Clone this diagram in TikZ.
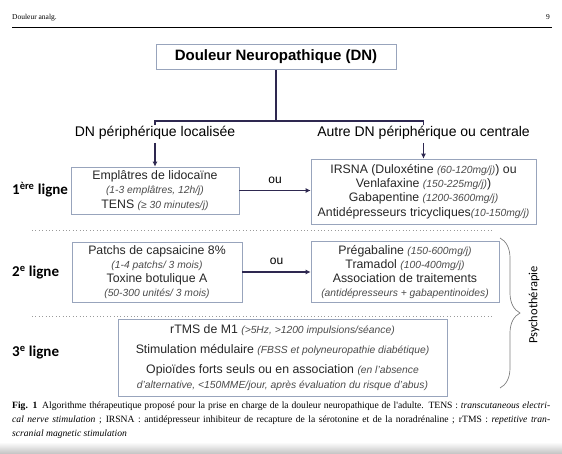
\documentclass[tikz,border=0pt]{standalone}
\usepackage{fontspec}
\setmainfont{Liberation Sans}
\newfontfamily\calibri{Carlito}
\newfontfamily\capfont{Liberation Serif}
\usepackage{xcolor}
\usetikzlibrary{arrows.meta, positioning, calc, decorations.pathreplacing}

\definecolor{boxline}{HTML}{98A4BC}
\definecolor{arrowcol}{HTML}{2E2850}
\definecolor{dosegray}{HTML}{4A4A4A}
\definecolor{dotgray}{HTML}{9A9A9A}

\newcommand{\dose}[1]{{\fontsize{10.3}{12}\selectfont\itshape\color{dosegray}#1}}

\begin{document}
\begin{tikzpicture}[
    x=1pt, y=-1pt,
    >=Latex,
    drugbox/.style={draw=boxline, line width=0.6pt, align=center, inner sep=0pt,
        text=black!85, font=\fontsize{12.3}{14.2}\selectfont},
    titlebox/.style={draw=boxline, line width=0.6pt, inner sep=0pt,
        minimum width=240, minimum height=25, font=\bfseries\fontsize{15}{18}\selectfont},
    branch/.style={draw=arrowcol, line width=1.8pt},
    branchlabel/.style={inner sep=3pt, font=\fontsize{14}{16}\selectfont},
    downarrow/.style={draw=arrowcol, line width=1.5pt, -{Latex[length=5pt,width=5pt]}},
    ouarrow/.style={draw=arrowcol, line width=1.8pt, -{Latex[length=5pt,width=5pt]}},
    rowlabel/.style={anchor=west, inner sep=0pt, font=\calibri\bfseries\fontsize{15}{18}\selectfont},
    rowsep/.style={draw=dotgray, line width=0.8pt, dash pattern=on 0.8pt off 2.6pt},
    psybrace/.style={draw=gray, line width=0.7pt, decorate, decoration={brace, amplitude=20pt}}
]

\useasboundingbox (0,0) rectangle (562,453);

% Page head
\node[anchor=base west, inner sep=0pt, font=\capfont\fontsize{7.5}{9}\selectfont] (runhead) at (12,19) {Douleur analg.};
\node[anchor=base east, inner sep=0pt, font=\capfont\fontsize{7.5}{9}\selectfont] (pagenum) at (550,19) {9};
\draw[line width=0.7pt] (12,27) -- (552,27);

% Top of the tree
\node[titlebox] (dn) at (276,57) {Douleur Neuropathique (DN)};
\coordinate (fork) at (276,121);
\coordinate (tickL) at (155,125);
\coordinate (tickR) at (423.5,125);
\draw[branch] (dn.south) -- (fork);
\draw[branch] (tickL) -- (tickL |- fork) -- (tickR |- fork) -- (tickR);

\node[branchlabel] (periph) at (155,133) {DN périphérique localisée};
\node[branchlabel] (autre) at (423.5,133) {Autre DN périphérique ou centrale};

% 1ere ligne
\node[drugbox, minimum width=168, minimum height=47] (l1a) at (155,190.5)
    {Emplâtres de lidocaïne\\ \dose{(1-3 emplâtres, 12h/j)}\\ TENS \dose{(≥ 30 minutes/j)}};
\node[drugbox, minimum width=225, minimum height=65] (l1b) at (423.5,191.5)
    {IRSNA (Duloxétine \dose{(60-120mg/j)}) ou\\ Venlafaxine \dose{(150-225mg/j)})\\
     Gabapentine \dose{(1200-3600mg/j)}\\ Antidépresseurs tricycliques\dose{(10-150mg/j)}};

% 2e ligne
\node[drugbox, minimum width=170, minimum height=60] (l2a) at (157,272)
    {Patchs de capsaicine 8\%\\ \dose{(1-4 patchs/ 3 mois)}\\ Toxine botulique A\\ \dose{(50-300 unités/ 3 mois)}};
\node[drugbox, minimum width=188, minimum height=61] (l2b) at (405,272)
    {Prégabaline \dose{(150-600mg/j)}\\ Tramadol \dose{(100-400mg/j)}\\ Association de traitements\\
     \dose{(antidépresseurs + gabapentinoides)}};

% 3e ligne
\node[drugbox, minimum width=329, minimum height=77, font=\fontsize{12.3}{20}\selectfont] (l3) at (282.5,358)
    {rTMS de M1 \dose{(>5Hz, >1200 impulsions/séance)}\\
     Stimulation médulaire \dose{(FBSS et polyneuropathie diabétique)}\\
     Opioïdes forts seuls ou en association \dose{(en l'absence}\\[-5pt]
     \dose{d'alternative, <150MME/jour, après évaluation du risque d'abus)}};

% arrows
\draw[downarrow] (periph.south) -- (l1a.north);
\draw[downarrow] (autre.south) -- (l1b.north);
\draw[ouarrow] (l1a.east) -- (l1a.east -| l1b.west)
    node[midway, above=3pt, font=\fontsize{12}{14}\selectfont] (ou1) {ou};
\draw[ouarrow] (l2a.east) -- (l2a.east -| l2b.west)
    node[midway, above=3pt, font=\fontsize{12}{14}\selectfont] (ou2) {ou};

% row labels and separators
\node[rowlabel] (row1) at (12,190) {1\textsuperscript{ère} ligne};
\node[rowlabel] (row2) at (12,273) {2\textsuperscript{e} ligne};
\node[rowlabel] (row3) at (12,353) {3\textsuperscript{e} ligne};
\draw[rowsep] (32,230) -- (493,230);
\draw[rowsep] (32,316) -- (493,316);

% Psychotherapie
\draw[psybrace] (500,238) -- (500,388);
\node[rotate=90, inner sep=0pt, font=\calibri\fontsize{12.5}{15}\selectfont] (psy) at (534,305) {Psychothérapie};

% Legend
\node[anchor=north west, inner sep=0pt, text width=538, align=justify,
      font=\capfont\fontsize{9.6}{14}\selectfont] (legend) at (12,402)
    {\textbf{Fig. 1}\enspace Algorithme thérapeutique proposé pour la prise en charge de la douleur neuropathique de l'adulte. TENS : \textit{transcutaneous electri-}\linebreak
     \textit{cal nerve stimulation} ; IRSNA : antidépresseur inhibiteur de recapture de la sérotonine et de la noradrénaline ; rTMS : \textit{repetitive tran-}\linebreak
     \textit{scranial magnetic stimulation}};

\shade[top color=white, bottom color=black!22] (0,442) rectangle (562,453);

\end{tikzpicture}
\end{document}
